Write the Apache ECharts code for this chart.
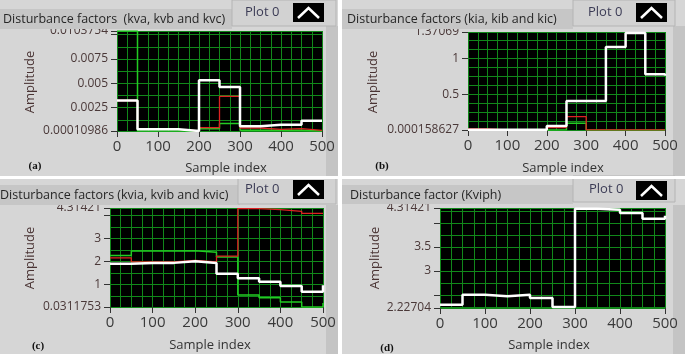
<!DOCTYPE html>
<html>
<head>
<meta charset="utf-8">
<script src="https://cdn.jsdelivr.net/npm/echarts@6/dist/echarts.min.js"></script>
<style>
  html, body { margin: 0; padding: 0; background: #fff; }
  #main { width: 685px; height: 354px; }
</style>
</head>
<body>
<div id="main"></div>
<script>
// sample index where each 50-sample step starts (last one = final sample)
const sampleIdx = [0, 50, 100, 150, 200, 250, 300, 350, 400, 450, 500];

// (a) kva, kvb, kvc
const aGreen = [0.0103754, 0.00011, 0.00011, 0.00011, 0.00035, 0.00088, 0.00018, 0.00018, 0.00018, 0.00011, 0.00011];
const aRed   = [0.00324, 0.00028, 0.00028, 0.00011, 0.00046, 0.00366, 0.00042, 0.00028, 0.00035, 0.00018, 0.00018];
const aWhite = [0.00324, 0.00028, 0.00028, 0.00011, 0.00533, 0.00463, 0.0006, 0.00074, 0.00074, 0.00115, 0.00115];
const aTicks  = [0.00010986, 0.0025, 0.005, 0.0075, 0.01, 0.0103754];
const aLabels = [0.00010986, 0.0025, 0.005, 0.0075, 0.0103754];
const aGridStep = 0.00125;

// (b) kia, kib, kic
const bGreen = [0.001, 0.001, 0.001, 0.001, 0.002, 0.093, 0.001, 0.001, 0.001, 0.001, 0.001];
const bRed   = [0.015, 0.001, 0.001, 0.001, 0.033, 0.186, 0.001, 0.001, 0.001, 0.001, 0.001];
const bWhite = [0.005, 0.005, 0.005, 0.005, 0.056, 0.404, 0.404, 1.161, 1.357, 0.78, 0.76];
const bTicks  = [0.000158627, 0.5, 1, 1.37069];
const bLabels = [0.000158627, 0.5, 1, 1.37069];
const bGridStep = 0.125;

// (c) kvia, kvib, kvic
const cGreen = [2.26, 2.45, 2.45, 2.47, 2.40, 2.19, 0.55, 0.43, 0.25, 0.031, 0.2];
const cRed   = [2.158, 1.986, 1.986, 2.043, 1.986, 2.23, 4.29, 4.24, 4.17, 4.08, 4.08];
const cWhite = [1.90, 1.94, 1.94, 2.01, 1.93, 1.47, 1.27, 1.12, 0.94, 0.69, 0.97];
const cTicks  = [0.0311753, 1, 2, 3, 4, 4.31421];
const cLabels = [0.0311753, 1, 2, 3, 4.31421];
const cGridStep = 0.5;

// (d) Kviph
const dWhite = [2.297, 2.505, 2.47, 2.505, 2.436, 2.248, 4.30, 4.28, 4.21, 4.09, 4.15];
const dTicks  = [2.22704, 2.5, 3, 3.5, 4, 4.31421];
const dLabels = [2.22704, 3, 3.5, 4.31421];
const dGridStep = 0.25;

const GREEN = '#22cc22', RED = '#dd2222', WHITE = '#ffffff';
const GRIDC = '#11881a';
const UI = 'Open Sans';

const panels = [
  { grid: {left: 117, top: 31, width: 205, height: 100},
    ticks: aTicks, labels: aLabels, step: aGridStep,
    series: [[aGreen, GREEN, 1.5], [aRed, RED, 1.3], [aWhite, WHITE, 2.5]],
    bg: [0, 0, 338, 176], title: 'Disturbance factors  (kva, kvb and kvc)',
    bar: [0, 9, 232, 20], textX: 3, textY: 19, box: [232, 0, 104, 26], boxText: [245, 12], icon: [293, 3],
    amp: [30, 82], samp: [226, 168], tag: '(a)', tagPos: [35, 166] },
  { grid: {left: 468, top: 32, width: 197, height: 98},
    ticks: bTicks, labels: bLabels, step: bGridStep,
    series: [[bGreen, GREEN, 1.5], [bRed, RED, 1.3], [bWhite, WHITE, 2.5]],
    bg: [342, 0, 343, 176], title: 'Disturbance factors (kia, kib and kic)',
    bar: [342, 9, 231, 20], textX: 347, textY: 19, box: [573, 0, 102, 26], boxText: [588, 12], icon: [636, 3],
    amp: [373, 82], samp: [563, 168], tag: '(b)', tagPos: [382, 166] },
  { grid: {left: 110, top: 208, width: 213, height: 99},
    ticks: cTicks, labels: cLabels, step: cGridStep,
    series: [[cGreen, GREEN, 1.5], [cRed, RED, 1.3], [cWhite, WHITE, 2.5]],
    bg: [0, 179, 338, 175], title: 'Disturbance factors (kvia, kvib and kvic)',
    bar: [0, 185, 240, 20], textX: 0, textY: 195, box: [238, 178, 98, 26], boxText: [245, 189], icon: [293, 180],
    amp: [30, 258], samp: [210, 345], tag: '(c)', tagPos: [38, 346] },
  { grid: {left: 440, top: 208, width: 225, height: 100},
    ticks: dTicks, labels: dLabels, step: dGridStep,
    series: [[dWhite, WHITE, 2.5]],
    bg: [342, 179, 343, 175], title: 'Disturbance factor (Kviph)',
    bar: [342, 185, 231, 19], textX: 350, textY: 195, box: [573, 176, 102, 26], boxText: [589, 189], icon: [636, 181],
    amp: [375, 258], samp: [549, 345], tag: '(d)', tagPos: [387, 348] }
];

function stepData(vals) {
  return sampleIdx.map((x, i) => [x, vals[i]]);
}

let grids = [], xAxes = [], yAxes = [], series = [], graphics = [];
const n = panels.length;

panels.forEach((p, i) => {
  let yMin = p.ticks[0], yMax = p.ticks[p.ticks.length - 1];
  grids[i] = Object.assign({show: true, backgroundColor: '#000', borderWidth: 0}, p.grid);
  // overlay grid on the same rect, only for the horizontal grid lines
  grids[n + i] = Object.assign({show: false}, p.grid);

  xAxes[i] = {
    gridIndex: i, type: 'value', min: 0, max: 500, interval: 100,
    axisLine: {show: false},
    axisTick: {length: 6, lineStyle: {color: '#333'}},
    axisLabel: {fontSize: 15, color: '#3a3a3a', margin: 8, fontFamily: UI},
    splitLine: {show: true, lineStyle: {color: GRIDC, width: 1}},
    minorTick: {show: false, splitNumber: 4},
    minorSplitLine: {show: true, lineStyle: {color: GRIDC, width: 1}}
  };
  yAxes[i] = {
    gridIndex: i, type: 'value', min: yMin, max: yMax,
    axisLine: {show: false},
    axisTick: {show: true, length: 6, customValues: p.ticks, lineStyle: {color: '#333'}},
    axisLabel: {customValues: p.labels, formatter: v => String(v), fontSize: 12, color: '#4a3838', margin: 9, fontFamily: UI},
    splitLine: {show: false}
  };
  // overlay axes, y counted in grid steps
  let gMin = yMin / p.step, gMax = yMax / p.step;
  xAxes[n + i] = {
    gridIndex: n + i, type: 'value', min: 0, max: 500,
    axisLine: {show: false}, axisTick: {show: false}, axisLabel: {show: false}, splitLine: {show: false}
  };
  yAxes[n + i] = {
    gridIndex: n + i, type: 'value', min: gMin, max: gMax,
    splitNumber: Math.round(gMax - gMin),
    axisLine: {show: false}, axisTick: {show: false}, axisLabel: {show: false},
    splitLine: {show: true, lineStyle: {color: GRIDC, width: 1}}
  };
  series.push({type: 'line', xAxisIndex: n + i, yAxisIndex: n + i, data: [], silent: true, symbol: 'none'});

  p.series.forEach(s => {
    series.push({
      type: 'line', xAxisIndex: i, yAxisIndex: i, step: 'end',
      showSymbol: false, symbol: 'none', silent: true, z: 5,
      lineStyle: {color: s[1], width: s[2]},
      data: stepData(s[0])
    });
  });

  // panel chrome
  graphics.push({type: 'rect', z: -100, shape: {x: p.bg[0], y: p.bg[1], width: p.bg[2], height: p.bg[3]}, style: {fill: '#d6d6d6'}});
  graphics.push({type: 'rect', z: -99, shape: {x: p.bg[0] + p.bg[2] - 12, y: p.bg[1] + 26, width: 12, height: p.bg[3] - 26}, style: {fill: '#c4c4c4'}});
  graphics.push({type: 'rect', z: 50, shape: {x: p.bar[0], y: p.bar[1], width: p.bar[2], height: p.bar[3]}, style: {fill: '#c6c6c6'}});
  graphics.push({type: 'text', z: 52, x: p.textX, y: p.textY,
    style: {text: p.title, font: '12.5px "Open Sans"', fill: '#262626', textVerticalAlign: 'middle'}});
  graphics.push({type: 'rect', z: 50, shape: {x: p.box[0], y: p.box[1], width: p.box[2], height: p.box[3]},
    style: {fill: '#d2d2d2', stroke: '#b4b4b4', lineWidth: 1}});
  graphics.push({type: 'text', z: 52, x: p.boxText[0], y: p.boxText[1],
    style: {text: 'Plot 0', font: '13px "Open Sans"', fill: '#3b3b55', textVerticalAlign: 'middle'}});
  graphics.push({type: 'rect', z: 52, shape: {x: p.icon[0], y: p.icon[1], width: 31, height: 19}, style: {fill: '#000'}});
  graphics.push({type: 'polyline', z: 53,
    shape: {points: [[p.icon[0] + 5, p.icon[1] + 15], [p.icon[0] + 15.5, p.icon[1] + 5], [p.icon[0] + 26, p.icon[1] + 15]]},
    style: {stroke: '#fff', lineWidth: 2.5, fill: null}});
  graphics.push({type: 'text', z: 52, x: p.amp[0], y: p.amp[1], rotation: Math.PI / 2,
    style: {text: 'Amplitude', font: '13px "Open Sans"', fill: '#4a3434', textAlign: 'center', textVerticalAlign: 'middle'}});
  graphics.push({type: 'text', z: 52, x: p.samp[0], y: p.samp[1],
    style: {text: 'Sample index', font: '13px "Open Sans"', fill: '#333', textAlign: 'center', textVerticalAlign: 'middle'}});
  graphics.push({type: 'text', z: 52, x: p.tagPos[0], y: p.tagPos[1],
    style: {text: p.tag, font: 'bold 11px "Liberation Serif"', fill: '#111', textAlign: 'center', textVerticalAlign: 'middle'}});
});

// white separators between the four panels
graphics.push({type: 'rect', z: 60, shape: {x: 338, y: 0, width: 4, height: 354}, style: {fill: '#fff'}});
graphics.push({type: 'rect', z: 60, shape: {x: 0, y: 176, width: 685, height: 3}, style: {fill: '#fff'}});

let myChart = echarts.init(document.getElementById('main'));
myChart.setOption({
  animation: false,
  backgroundColor: '#fff',
  grid: grids,
  xAxis: xAxes,
  yAxis: yAxes,
  series: series,
  graphic: {elements: graphics}
});
</script>
</body>
</html>
